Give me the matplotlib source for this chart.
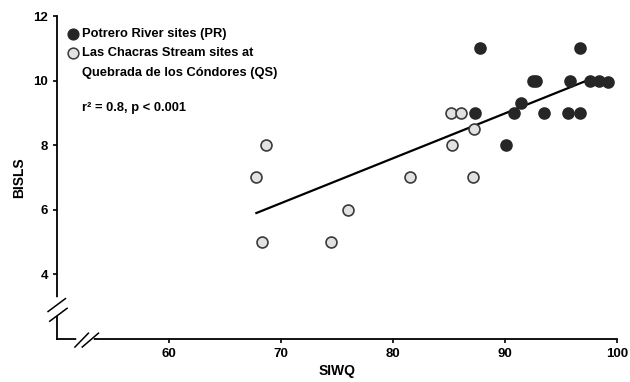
import matplotlib.pyplot as plt
import numpy as np

plt.rcParams['font.family'] = ['Liberation Sans', 'DejaVu Sans']
plt.rcParams['font.weight'] = 'bold'

# Potrero River sites (PR)
pr_x = [87.8, 96.7, 92.5, 92.8, 95.8, 97.6, 98.4, 99.2, 91.4, 90.8, 93.5, 95.6, 96.7, 87.3, 90.1]
pr_y = [11, 11, 10, 10, 10, 10, 10, 9.95, 9.3, 9, 9, 9, 9, 9, 8]
# Las Chacras Stream sites (QS)
qs_x = [85.2, 86.1, 87.2, 85.3, 81.5, 87.1, 68.7, 67.8, 76.0, 68.3, 74.5]
qs_y = [9, 9, 8.5, 8, 7, 7, 8, 7, 6, 5, 5]
# regression line ends
fit_x = [67.8, 97.3]
fit_y = [5.9, 10.0]

xticks = [60, 70, 80, 90, 100]
yticks = [4, 6, 8, 10, 12]

fig = plt.figure(figsize=(6.3, 3.82), dpi=100)
ax = fig.add_axes([0.0905, 0.1126, 0.8889, 0.8455])
ax.set_xlim(50, 100)
ax.set_ylim(2, 12)

ax.plot(fit_x, fit_y, color='black', lw=1.6, zorder=2)
ax.scatter(qs_x, qs_y, s=62, facecolor='#e2e2e2', edgecolor='#3a3a3a', lw=1.2, zorder=3)
ax.scatter(pr_x, pr_y, s=62, facecolor='#262626', edgecolor='#262626', lw=1.2, zorder=4)

ax.spines['top'].set_visible(False)
ax.spines['right'].set_visible(False)
ax.spines['left'].set_linewidth(1.3)
ax.spines['bottom'].set_linewidth(1.3)
ax.set_xticks(xticks)
ax.set_yticks(yticks)
ax.tick_params(direction='out', length=3, width=1.2, labelsize=9.5)
ax.set_xlabel('SIWQ', fontsize=10, fontweight='bold', labelpad=3)
ax.set_ylabel('BISLS', fontsize=10, fontweight='bold', labelpad=5)

# axis breaks
ax.plot([50, 50], [2.8, 3.2], color='white', lw=4, clip_on=False, zorder=5)
ax.plot([52.0, 53.0], [2, 2], color='white', lw=4, clip_on=False, zorder=5)
kw = dict(color='black', lw=1.1, clip_on=False, zorder=6)
ax.plot([49.35, 50.9], [2.55, 2.95], **kw)
ax.plot([49.2, 50.75], [2.85, 3.25], **kw)
ax.plot([51.6, 52.8], [1.75, 2.18], **kw)
ax.plot([52.25, 53.7], [1.75, 2.18], **kw)

# legend and stats
ax.scatter([51.45], [11.45], s=60, facecolor='#262626', edgecolor='#262626', zorder=4, clip_on=False)
ax.scatter([51.45], [10.85], s=60, facecolor='#e2e2e2', edgecolor='#3a3a3a', lw=1.1, zorder=4, clip_on=False)
fs = 9.3
ax.text(52.2, 11.45, 'Potrero River sites (PR)', fontsize=fs, fontweight='bold', va='center')
ax.text(52.2, 10.85, 'Las Chacras Stream sites at', fontsize=fs, fontweight='bold', va='center')
ax.text(52.2, 10.25, 'Quebrada de los Cóndores (QS)', fontsize=fs, fontweight='bold', va='center')
ax.text(52.2, 9.15, 'r² = 0.8, p < 0.001', fontsize=fs, fontweight='bold', va='center')

fig.savefig('out.png', dpi=100)
